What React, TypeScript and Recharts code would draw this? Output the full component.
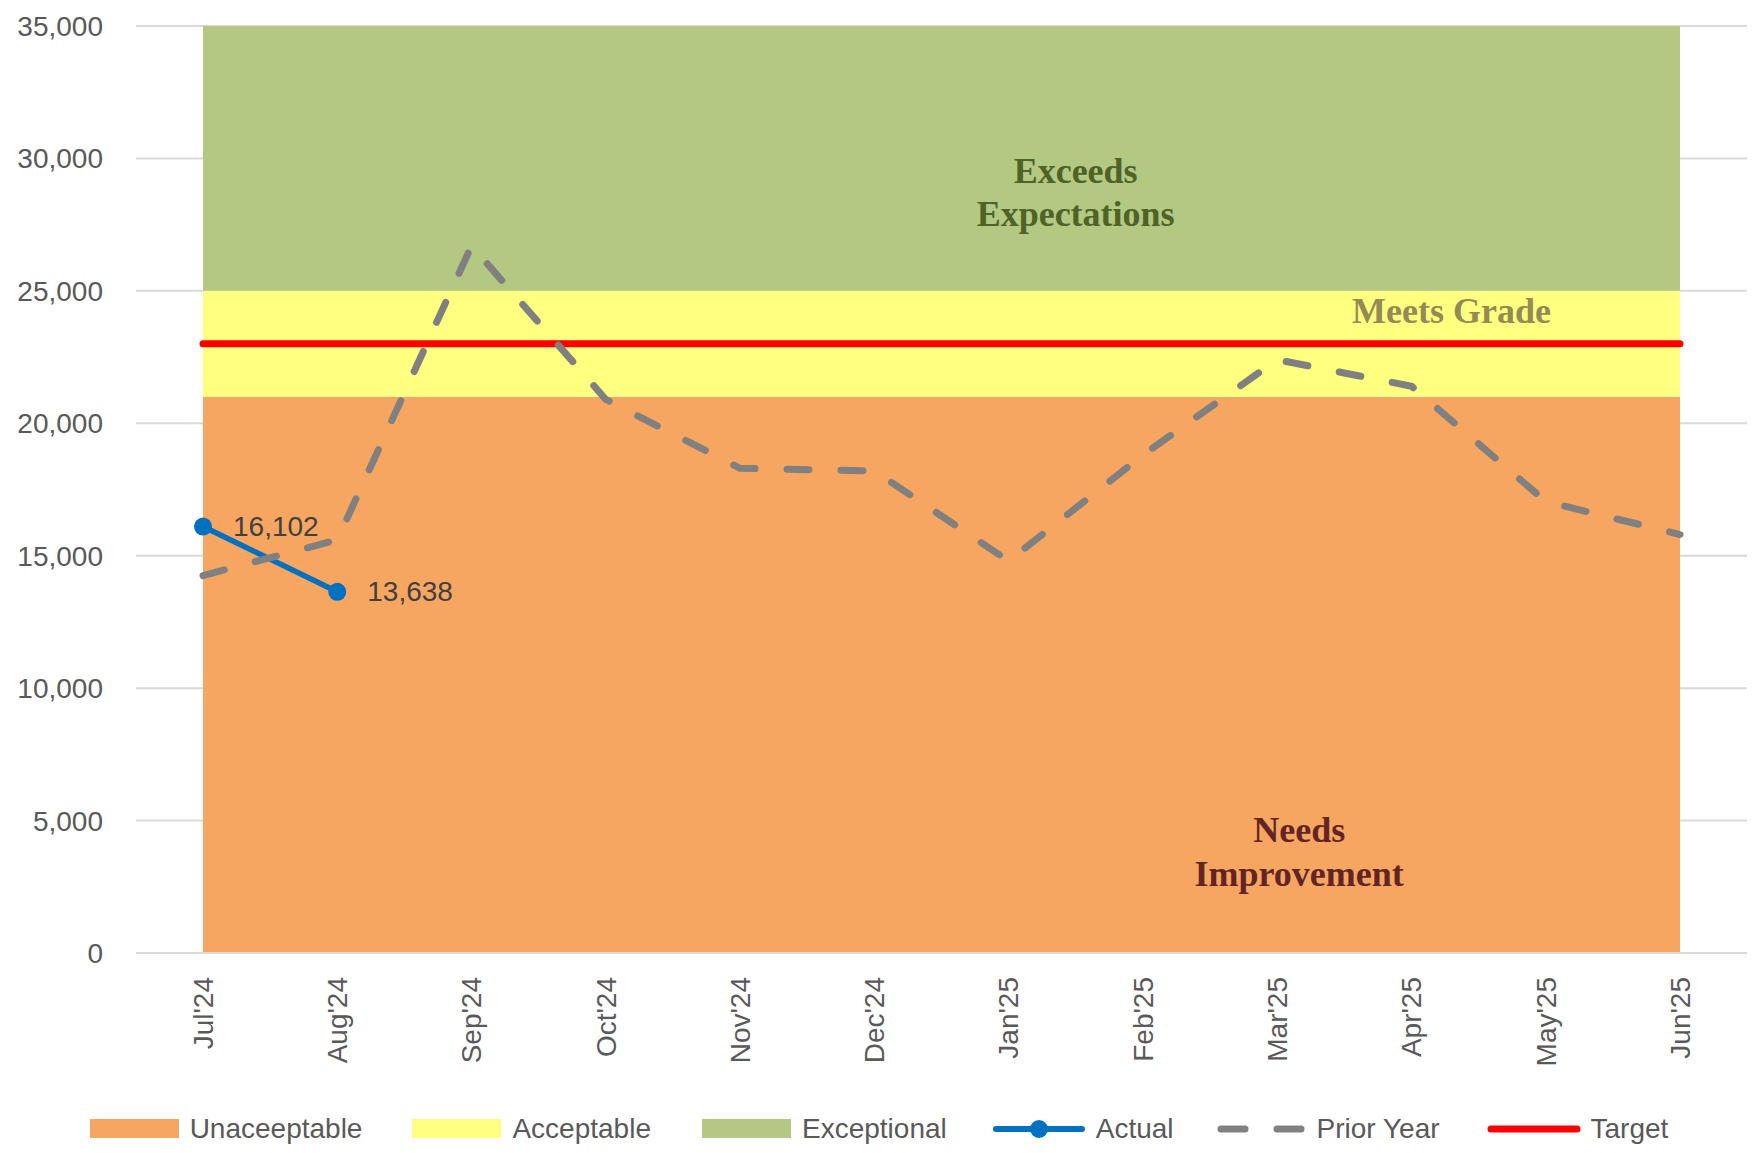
import React from 'react';
import {
  ComposedChart,
  Area,
  Line,
  XAxis,
  YAxis,
  CartesianGrid,
  Legend,
  LabelList,
  ReferenceDot,
} from 'recharts';

const months = ["Jul'24", "Aug'24", "Sep'24", "Oct'24", "Nov'24", "Dec'24", "Jan'25", "Feb'25", "Mar'25", "Apr'25", "May'25", "Jun'25"];
const actual: (number | null)[] = [16102, 13638, null, null, null, null, null, null, null, null, null, null];
const priorYear = [14250, 15600, 26700, 20900, 18300, 18200, 14800, 18800, 22400, 21400, 17050, 15800];
const target = [23000, 23000, 23000, 23000, 23000, 23000, 23000, 23000, 23000, 23000, 23000, 23000];
const unacceptable = [21000, 21000, 21000, 21000, 21000, 21000, 21000, 21000, 21000, 21000, 21000, 21000];
const acceptable = [4000, 4000, 4000, 4000, 4000, 4000, 4000, 4000, 4000, 4000, 4000, 4000];
const exceptional = [10000, 10000, 10000, 10000, 10000, 10000, 10000, 10000, 10000, 10000, 10000, 10000];
const yTicks = [0, 5000, 10000, 15000, 20000, 25000, 30000, 35000];
const legendOrder = ['Unaceeptable', 'Acceptable', 'Exceptional', 'Actual', 'Prior Year', 'Target'];
const legendGaps = [0, 50, 51, 45, 41, 47];

const data = months.map((m, i) => ({
  month: m,
  unacceptable: unacceptable[i],
  acceptable: acceptable[i],
  exceptional: exceptional[i],
  actual: actual[i],
  prior: priorYear[i],
  target: target[i],
}));

const SANS = '"Liberation Sans", Arial, sans-serif';
const SERIF = '"Liberation Serif", "Times New Roman", serif';

const fmt = (v: number) => v.toLocaleString('en-US');

const XTick = (props: any) => {
  const { x, y, payload } = props;
  return (
    <text
      x={x}
      y={y}
      transform={`rotate(-90, ${x}, ${y})`}
      textAnchor="end"
      dy="0.35em"
      fill="#595959"
      fontSize={28}
      fontFamily={SANS}
    >
      {payload.value}
    </text>
  );
};

const ActualLabel = (props: any) => {
  const { x, y, value } = props;
  if (value == null) return null;
  return (
    <text x={x + 30} y={y} dominantBaseline="central" fill="#404040" fontSize={28} fontFamily={SANS}>
      {fmt(value)}
    </text>
  );
};

const makeNote = (lines: string[], color: string, dx: number, gap: number) => (props: any) => {
  const vb = props.viewBox || {};
  const cx = (vb.x || 0) + (vb.width || 0) / 2 + dx;
  const cy = (vb.y || 0) + (vb.height || 0) / 2;
  const n = lines.length;
  return (
    <g>
      {lines.map((l, i) => (
        <text
          key={i}
          x={cx}
          y={cy + (i - (n - 1) / 2) * gap}
          textAnchor="middle"
          dominantBaseline="central"
          fill={color}
          fontSize={36}
          fontWeight="bold"
          fontFamily={SERIF}
        >
          {l}
        </text>
      ))}
    </g>
  );
};

const LegendIcon = ({ name, color }: { name: string; color: string }) => {
  if (name === 'Actual') {
    return (
      <svg width={94} height={24}>
        <line x1={4} y1={12} x2={90} y2={12} stroke={color} strokeWidth={6} strokeLinecap="round" />
        <circle cx={47} cy={12} r={9} fill={color} />
      </svg>
    );
  }
  if (name === 'Prior Year') {
    return (
      <svg width={92} height={24}>
        <line x1={6} y1={12} x2={30} y2={12} stroke={color} strokeWidth={7} strokeLinecap="round" />
        <line x1={62} y1={12} x2={86} y2={12} stroke={color} strokeWidth={7} strokeLinecap="round" />
      </svg>
    );
  }
  if (name === 'Target') {
    return (
      <svg width={94} height={24}>
        <line x1={4} y1={12} x2={90} y2={12} stroke={color} strokeWidth={7} strokeLinecap="round" />
      </svg>
    );
  }
  return (
    <svg width={90} height={24}>
      <rect x={0} y={2} width={89} height={19} fill={color} />
    </svg>
  );
};

const LegendContent = (props: any) => {
  const payload = [...(props.payload || [])].sort(
    (a: any, b: any) => legendOrder.indexOf(a.value) - legendOrder.indexOf(b.value)
  );
  return (
    <div
      style={{
        display: 'flex',
        justifyContent: 'center',
        alignItems: 'center',
        fontFamily: SANS,
        fontSize: 28,
        color: '#595959',
        height: 48,
      }}
    >
      {payload.map((it: any, i: number) => (
        <div
          key={it.value}
          style={{ display: 'flex', alignItems: 'center', marginLeft: legendGaps[legendOrder.indexOf(it.value)] || 0 }}
        >
          <LegendIcon name={it.value} color={it.color} />
          <span style={{ marginLeft: 10 }}>{it.value}</span>
        </div>
      ))}
    </div>
  );
};

export default function App() {
  return (
    <div style={{ position: 'absolute', left: 0, top: 0, width: 1758, height: 1153, background: '#fff' }}>
      <ComposedChart
        width={1758}
        height={1153}
        data={data}
        margin={{ top: 26, right: 11, left: 0, bottom: 42 }}
      >
        <CartesianGrid horizontal vertical={false} stroke="#D9D9D9" strokeWidth={2} />
        <XAxis
          dataKey="month"
          padding={{ left: 67, right: 67 }}
          interval={0}
          height={110}
          tickLine={false}
          tickSize={0}
          tickMargin={24}
          axisLine={{ stroke: '#D9D9D9', strokeWidth: 2 }}
          tick={<XTick />}
        />
        <YAxis
          domain={[0, 35000]}
          ticks={yTicks}
          width={136}
          axisLine={false}
          tickLine={false}
          tickSize={0}
          tickMargin={33}
          tickFormatter={fmt}
          tick={{ fill: '#595959', fontSize: 28, fontFamily: SANS }}
        />
        <Area
          type="linear"
          dataKey="unacceptable"
          name="Unaceeptable"
          stackId="bands"
          fill="#F7A662"
          stroke="none"
          fillOpacity={1}
          dot={false}
          activeDot={false}
          isAnimationActive={false}
        />
        <Area
          type="linear"
          dataKey="acceptable"
          name="Acceptable"
          stackId="bands"
          fill="#FFFF80"
          stroke="none"
          fillOpacity={1}
          dot={false}
          activeDot={false}
          isAnimationActive={false}
        />
        <Area
          type="linear"
          dataKey="exceptional"
          name="Exceptional"
          stackId="bands"
          fill="#B3C982"
          stroke="none"
          fillOpacity={1}
          dot={false}
          activeDot={false}
          isAnimationActive={false}
        />
        <Line
          type="linear"
          dataKey="target"
          name="Target"
          stroke="#FF0000"
          strokeWidth={7}
          strokeLinecap="round"
          dot={false}
          activeDot={false}
          isAnimationActive={false}
        />
        <Line
          type="linear"
          dataKey="actual"
          name="Actual"
          stroke="#0070C0"
          strokeWidth={5.5}
          dot={{ r: 9, fill: '#0070C0', stroke: '#0070C0', strokeWidth: 0 }}
          activeDot={false}
          connectNulls={false}
          isAnimationActive={false}
        >
          <LabelList dataKey="actual" content={<ActualLabel />} />
        </Line>
        <Line
          type="linear"
          dataKey="prior"
          name="Prior Year"
          stroke="#808080"
          strokeWidth={7}
          strokeDasharray="22 32"
          strokeLinecap="round"
          strokeLinejoin="round"
          dot={false}
          activeDot={false}
          isAnimationActive={false}
        />
        <ReferenceDot
          x="Jan'25"
          y={28700}
          r={0}
          fill="none"
          stroke="none"
          label={makeNote(['Exceeds', 'Expectations'], '#4F6228', 67, 43)}
        />
        <ReferenceDot
          x="Apr'25"
          y={24250}
          r={0}
          fill="none"
          stroke="none"
          label={makeNote(['Meets Grade'], '#948A54', 40, 43)}
        />
        <ReferenceDot
          x="Mar'25"
          y={3800}
          r={0}
          fill="none"
          stroke="none"
          label={makeNote(['Needs', 'Improvement'], '#632523', 22, 44)}
        />
        <Legend
          verticalAlign="bottom"
          content={<LegendContent />}
          wrapperStyle={{ left: 0, width: 1758, bottom: 0 }}
        />
      </ComposedChart>
    </div>
  );
}
